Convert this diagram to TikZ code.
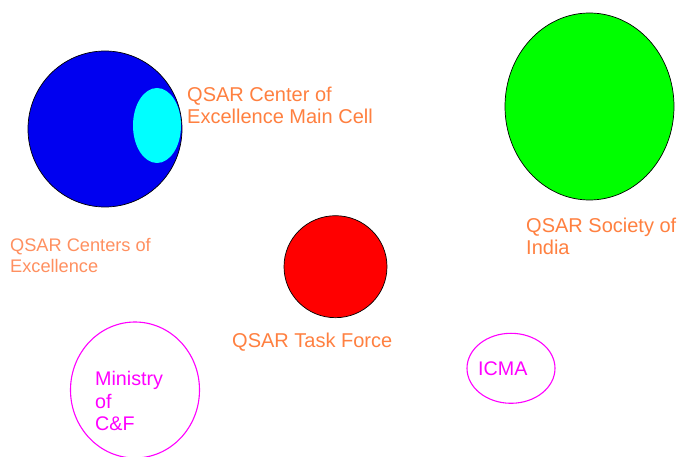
\documentclass[tikz,border=0pt]{standalone}
\usepackage{fontspec}
\setmainfont{Liberation Sans}
\usetikzlibrary{shapes.geometric}
\definecolor{labelorange}{HTML}{FF8040}
\definecolor{lightorange}{HTML}{FF9060}
\definecolor{pinkish}{HTML}{FF00FF}
\definecolor{fillblue}{HTML}{0000F0}
\definecolor{fillcyan}{HTML}{00FFFF}
\definecolor{fillgreen}{HTML}{00FF00}
\definecolor{fillred}{HTML}{FF0000}
\tikzset{
  blob/.style={ellipse, inner sep=0pt, draw=black, line width=0.7pt},
  ring/.style={ellipse, inner sep=0pt, draw=pinkish, line width=1.1pt},
  lbl/.style={anchor=base west, inner sep=0pt, text=labelorange, font=\fontsize{20}{22}\selectfont},
  lbllight/.style={anchor=base west, inner sep=0pt, text=lightorange, font=\fontsize{18.2}{21}\selectfont},
  lblpink/.style={anchor=base west, inner sep=0pt, text=pinkish, font=\fontsize{19.7}{22}\selectfont}
}
\begin{document}
\begin{tikzpicture}[x=1pt, y=-1pt]
\useasboundingbox (0,0) rectangle (681,457);
\fill[white] (0,0) rectangle (681,457);

% circles
\node[blob, fill=fillblue, minimum width=154pt, minimum height=156pt] (coe) at (105,129) {};
\node[ellipse, inner sep=0pt, fill=fillcyan, minimum width=48pt, minimum height=75pt] (main) at (157,125.5) {};
\node[blob, fill=fillgreen, minimum width=169pt, minimum height=187pt] (society) at (589.5,106.5) {};
\node[blob, fill=fillred, minimum width=103pt, minimum height=102pt] (task) at (335.5,266.7) {};
\node[ring, minimum width=129pt, minimum height=136pt] (ministry) at (135,390) {};
\node[ring, minimum width=88pt, minimum height=70pt] (icma) at (511,368.3) {};

% labels
\node[lbl] (mainA) at (187,102) {QSAR Center of};
\node[lbl] (mainB) at (187,123.3) {Excellence Main Cell};
\node[lbllight] (coeA) at (10,252) {QSAR Centers of};
\node[lbllight] (coeB) at (10,273) {Excellence};
\node[lbl] (socA) at (526,233) {QSAR Society of};
\node[lbl] (socB) at (526,255) {India};
\node[lbl] (taskA) at (232,347.7) {QSAR Task Force};
\node[lblpink] (minA) at (95,385.7) {Ministry};
\node[lblpink] (minB) at (95,408.3) {of};
\node[lblpink] (minC) at (95,431) {C\&F};
\node[lblpink] (icmaA) at (478,375.7) {ICMA};
\end{tikzpicture}
\end{document}
